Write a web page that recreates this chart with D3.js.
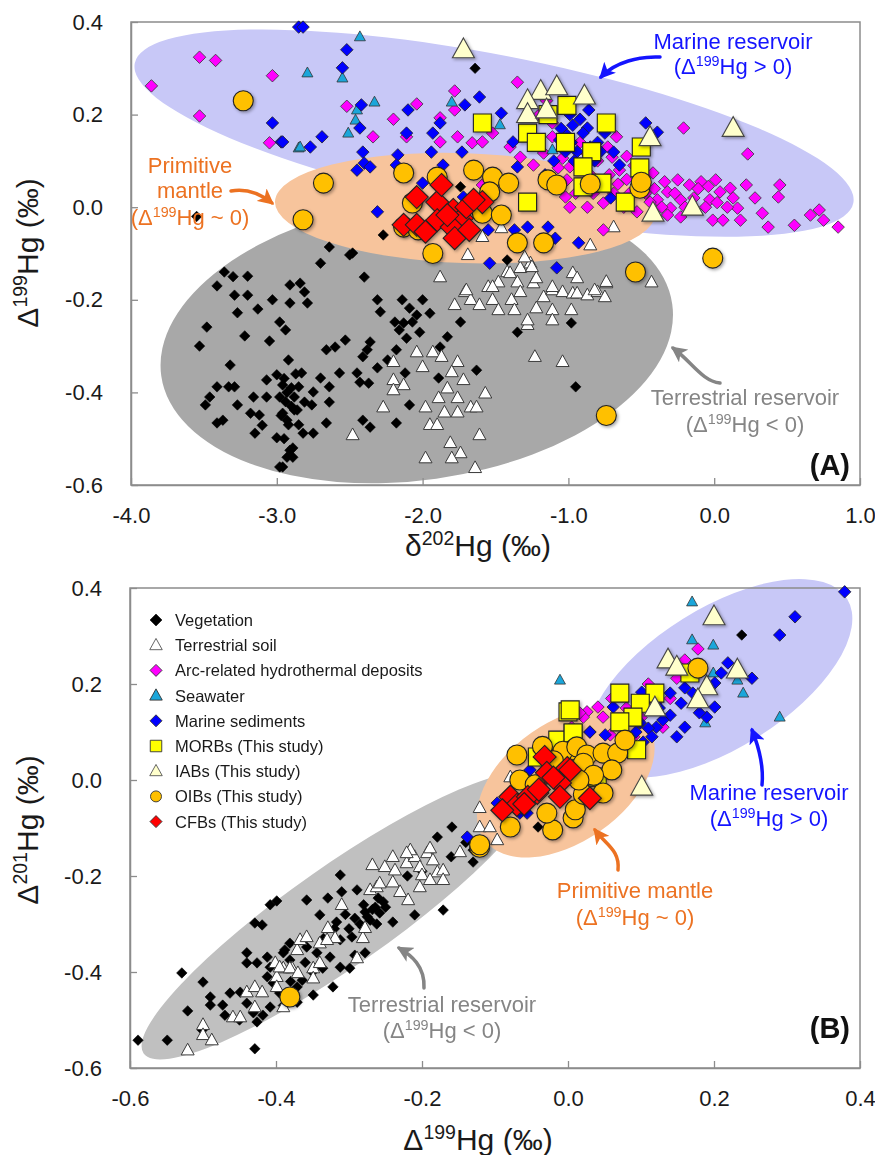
<!DOCTYPE html>
<html><head><meta charset="utf-8">
<script src="https://cdn.jsdelivr.net/npm/d3@7"></script>
<style>
body{margin:0;background:#fff}
svg{display:block}
text{font-family:"Liberation Sans",Arial,Helvetica,sans-serif}
</style>
</head><body>
<svg id="chart" width="875" height="1155"></svg>
<script>
// ---------------- DATA ----------------
// Panel A: x = δ202Hg, y = Δ199Hg
const vegA = [[-3.36,-0.14],[-3.30,-0.15],[-3.20,-0.149],[-3.41,-0.17],[-3.29,-0.19],[-3.20,-0.19],[-3.03,-0.20],[-2.91,-0.168],[-2.91,-0.207],[-3.27,-0.228],[-3.13,-0.22],[-2.98,-0.248],[-2.94,-0.265],[-3.48,-0.259],[-3.22,-0.278],[-3.05,-0.289],[-3.53,-0.30],[-3.32,-0.341],[-2.92,-0.33],[-3.41,-0.388],[-3.33,-0.388],[-3.29,-0.388],[-3.46,-0.41],[-3.49,-0.427],[-3.27,-0.427],[-3.16,-0.41],[-3.07,-0.373],[-3.00,-0.362],[-2.96,-0.384],[-2.98,-0.41],[-3.07,-0.41],[-3.18,-0.445],[-3.12,-0.449],[-2.96,-0.445],[-2.86,-0.438],[-3.41,-0.466],[-3.37,-0.46],[-3.10,-0.471],[-3.15,-0.488],[-3.00,-0.498],[-2.93,-0.46],[-2.89,-0.52],[-2.93,-0.54],[-2.98,-0.561],[-2.89,-0.54],
[-2.70,-0.121],[-2.50,-0.103],[-2.40,-0.151],[-2.84,-0.164],[-2.81,-0.183],[-2.79,-0.207],[-2.31,-0.20],[-2.14,-0.20],[-2.00,-0.20],[-2.29,-0.226],[-2.09,-0.218],[-2.04,-0.233],[-1.95,-0.229],[-2.19,-0.248],[-2.13,-0.25],[-2.07,-0.248],[-1.74,-0.248],[-2.16,-0.265],[-2.02,-0.27],[-2.11,-0.283],[-2.53,-0.287],[-2.36,-0.291],[-1.83,-0.28],[-2.60,-0.302],[-2.66,-0.308],[-2.38,-0.308],[-2.18,-0.308],[-1.88,-0.302],[-2.41,-0.323],[-2.24,-0.33],[-2.31,-0.347],[-2.57,-0.358],[-2.45,-0.358],[-2.12,-0.358],[-2.83,-0.358],[-2.70,-0.369],[-2.43,-0.378],[-2.37,-0.38],[-2.64,-0.388],[-1.89,-0.369],[-1.63,-0.352],[-2.85,-0.388],[-2.75,-0.399],[-2.81,-0.421],[-2.64,-0.421],[-2.88,-0.438],[-2.76,-0.427],[-2.09,-0.427],[-2.41,-0.46],[-2.36,-0.475],[-2.66,-0.466],[-2.18,-0.466],[-2.82,-0.488],[-2.75,-0.488],[-2.91,-0.525],[-2.96,-0.561],[-1.35,-0.27],[-0.95,-0.388],[-1.42,-0.114],[-0.98,-0.25],
[-2.27,-0.06],[-2.64,-0.086],[-2.48,-0.099],[-1.74,0.044],[-1.64,0.30],[-3.55,-0.02],
[-2.95,-0.37],[-2.93,-0.40],[-2.90,-0.39],[-2.94,-0.42],[-2.90,-0.43],[-2.97,-0.45],[-2.92,-0.47],[-2.88,-0.41],[-2.87,-0.36],[-2.85,-0.47],[-2.95,-0.50]];

const soilA = [[-1.88,-0.151],[-1.71,-0.183],[-1.78,-0.211],[-1.67,-0.200],[-1.61,-0.211],[-1.52,-0.200],[-1.55,-0.172],[-1.48,-0.162],[-1.42,-0.140],[-1.35,-0.162],[-1.33,-0.131],[-1.26,-0.121],[-1.24,-0.164],[-1.39,-0.200],[-1.33,-0.183],[-1.17,-0.194],[-1.11,-0.179],[-1.04,-0.183],[-0.97,-0.186],[-0.98,-0.222],[-1.11,-0.222],[-1.22,-0.218],[-1.37,-0.222],[-1.48,-0.222],[-1.28,-0.254],[-1.28,-0.244],[-1.11,-0.244],[-0.97,-0.142],[-1.23,-0.323],[-1.04,-0.334],[-2.04,-0.313],[-1.93,-0.313],[-1.87,-0.323],[-2.20,-0.334],[-2.00,-0.345],[-1.76,-0.334],[-1.80,-0.356],[-1.72,-0.373],[-2.20,-0.373],[-2.13,-0.384],[-2.20,-0.395],[-1.83,-0.391],[-1.89,-0.412],[-1.76,-0.412],[-1.57,-0.402],[-2.27,-0.432],[-1.98,-0.432],[-1.85,-0.443],[-1.76,-0.443],[-1.67,-0.432],[-1.63,-0.432],[-1.95,-0.470],[-1.90,-0.470],[-2.48,-0.492],[-1.61,-0.492],[-1.81,-0.509],[-1.74,-0.531],[-1.98,-0.542],[-1.80,-0.542],[-1.64,-0.563],[-0.94,-0.153],[-0.74,-0.164],[-0.43,-0.162],[-0.94,-0.186],[-0.87,-0.190],[-0.80,-0.183],[-0.75,-0.194],[-1.69,-0.103],[-1.59,-0.064],[-1.46,-0.045],[-1.30,-0.108],[-1.25,-0.129],[-1.40,-0.142],[-1.22,-0.153],[-1.11,-0.172],[-1.70,-0.179],[-0.69,-0.043],[-0.85,-0.082],[-0.74,-0.161],[-0.82,-0.179],[-1.52,-0.172]];

const arcA = [[-3.86,0.262],[-3.53,0.324],[-3.42,0.317],[-3.03,0.284],[-3.53,0.197],[-3.05,0.139],[-2.52,0.218],[-2.20,0.190],[-2.04,0.223],[-2.34,0.152],[-1.78,0.251],[-1.78,0.210],[-1.35,0.270],[-1.88,0.193],[-1.88,0.141],[-1.76,0.152],[-2.11,0.152],[-1.66,0.139],[-1.59,0.141],[-1.52,0.160],[-1.40,0.130],[-1.33,0.108],[-1.11,0.182],[-1.11,0.152],[-1.24,0.091],[-1.17,0.117],[-1.04,0.106],[-1.07,0.085],[-1.01,0.059],[-1.02,0.022],[-0.99,0.0],[-1.59,0.048],
[-0.21,0.171],[0.23,0.115],[-0.42,0.074],[-0.34,0.055],[-0.25,0.059],[-0.17,0.048],[-0.09,0.055],[0.01,0.059],[0.11,0.041],[0.22,0.048],[0.45,0.048],[0.44,0.022],[0.33,-0.013],[0.37,-0.043],[0.55,-0.039],[0.66,-0.017],[0.72,-0.006],[0.75,-0.028],[0.85,-0.043],[0.16,-0.002],[-0.01,-0.028],[0.06,-0.028],[0.18,-0.028],[-0.03,0.016],[0.04,0.033],[-0.32,0.033],[-0.39,0.016],[-0.23,0.016],[-0.30,-0.002],[-0.44,0.011],[-0.23,-0.021],[-0.32,-0.017],[-0.76,-0.049],[-0.87,0.0],[-0.76,0.009],[-0.67,0.152],[-0.73,0.130],[-0.70,0.108],[-0.65,0.080],[-0.99,0.087],[-0.95,0.03],[-0.60,0.06],[-0.55,0.09],[-0.58,0.03],[-0.62,0.00],[-0.80,0.10],[-0.85,0.07],[-0.92,0.14],[-0.47,0.03],[-0.36,0.00],[-0.14,0.02],[-0.06,0.00],[0.09,0.00],[0.28,0.02],[-1.2,0.20],[-1.15,0.23],[-0.69,0.03],[-0.53,-0.01],
[-0.90,0.05],[-0.83,0.03],[-0.66,0.05],[-0.72,0.07],[-0.50,0.06],[-0.41,0.04],[-0.27,0.03],[-0.20,0.00],[-0.11,0.04],[-0.04,0.045],[0.02,0.01],[0.13,0.02],[-0.87,0.115],[-0.60,0.11]];

const seaA = [[-2.85,0.128],[-2.43,0.368],[-2.79,0.290],[-2.55,0.279],[-2.33,0.227],[-2.45,0.210],[-2.46,0.188],[-2.51,0.160],[-2.84,0.130],[-1.80,0.227],[-1.47,0.178],[-1.11,0.124]];

const marA = [[-2.85,0.389],[-3.03,0.182],[-2.97,0.141],[-2.82,0.389],[-2.52,0.340],[-2.55,0.301],[-2.42,0.221],[-2.10,0.210],[-2.43,0.171],[-2.69,0.152],[-2.77,0.130],[-2.96,0.141],[-2.41,0.119],[-2.40,0.095],[-2.45,0.080],[-2.36,0.087],[-2.17,0.113],[-2.18,0.091],[-1.94,0.119],[-1.93,0.160],[-1.88,0.182],[-2.11,0.160],[-1.71,0.221],[-1.61,0.238],[-1.73,0.119],[-1.86,0.091],[-1.46,0.203],[-1.38,0.141],[-1.35,0.087],[-2.00,0.052],[-2.31,-0.010],[-1.55,-0.049],[-1.37,-0.049],[-1.28,-0.043],[-1.14,-0.043],[-1.09,-0.067],[-1.54,-0.121],[-1.08,-0.131],[-1.72,0.022],[-1.01,0.156],
[-0.47,0.182],[-0.39,0.162],[-0.97,0.177],[-0.87,0.171],[-0.69,0.119],[-0.65,0.091],[-0.71,0.020],[-0.93,-0.077],
[-1.05,0.17],[-0.98,0.14],[-0.94,0.12],[-0.90,0.16],[-0.85,0.13],[-0.82,0.10],[-1.02,0.12],[-0.96,0.10],[-0.88,0.09],[-0.80,0.14],[-0.75,0.16],[-1.10,0.10],[-1.06,0.145],[-0.92,0.19],[-0.78,0.12],[-1.16,0.07],[-0.99,0.20],[-0.86,0.21]];

const morbA = [[-1.59,0.182],[-1.28,0.160],[-1.22,0.140],[-1.01,0.220],[-1.28,0.011],[-0.74,0.182],[-0.84,0.120],[-0.50,0.130],[-0.51,0.085],[-0.90,0.087],[-0.90,0.044],[-0.77,0.052],[-0.61,0.011],[-1.14,0.20],[-1.02,0.14]];

const iabA = [[-1.72,0.34],[-1.19,0.25],[-1.28,0.23],[-1.28,0.20],[-0.89,0.24],[0.13,0.17],[-0.44,0.15],[-0.42,-0.013],[-0.15,0.0],[-1.08,0.26],[-1.15,0.21]];

const oibA = [[-3.23,0.23],[-2.82,-0.027],[-2.68,0.052],[-2.13,0.074],[-1.90,0.065],[-2.07,0.009],[-2.13,-0.043],[-2.03,-0.049],[-1.93,-0.10],[-1.65,0.08],[-1.52,0.065],[-1.41,0.052],[-1.54,0.033],[-1.59,-0.013],[-1.46,-0.017],[-1.35,-0.077],[-1.17,-0.077],[-1.14,0.059],[-1.08,0.048],[-0.51,0.041],[-0.50,0.054],[-0.01,-0.11],[-0.54,-0.14],[-0.74,-0.45],[-0.85,0.05]];

const cfbA = [[-2.04,0.022],[-1.90,0.011],[-1.87,0.048],[-2.13,-0.038],[-2.04,-0.038],[-1.90,-0.028],[-1.79,-0.006],[-1.73,-0.024],[-1.80,-0.043],[-1.70,0.0],[-1.59,0.011],[-1.78,-0.067],[-1.68,-0.049],[-1.83,-0.017],[-1.98,-0.053],[-1.65,0.016]];

// Panel B: x = Δ199Hg, y = Δ201Hg
const vegB = [[-0.589,-0.542],[-0.549,-0.542],[-0.529,-0.402],[-0.500,-0.421],[-0.521,-0.481],[-0.490,-0.452],[-0.490,-0.469],[-0.501,-0.521],[-0.429,-0.560],[-0.408,-0.260],[-0.399,-0.252],[-0.429,-0.298],[-0.419,-0.302],[-0.440,-0.360],[-0.440,-0.381],[-0.426,-0.381],[-0.412,-0.369],[-0.408,-0.390],[-0.390,-0.360],[-0.381,-0.340],[-0.463,-0.444],[-0.449,-0.442],[-0.473,-0.469],[-0.440,-0.465],[-0.431,-0.485],[-0.418,-0.490],[-0.426,-0.504],[-0.408,-0.473],[-0.395,-0.444],[-0.404,-0.423],[-0.371,-0.463],[-0.412,-0.410],
[-0.312,-0.198],[-0.310,-0.233],[-0.289,-0.229],[-0.358,-0.250],[-0.329,-0.246],[-0.340,-0.281],[-0.317,-0.296],[-0.292,-0.288],[-0.278,-0.275],[-0.264,-0.265],[-0.258,-0.277],[-0.271,-0.292],[-0.253,-0.254],[-0.260,-0.246],[-0.240,-0.296],[-0.210,-0.281],[-0.171,-0.271],[-0.130,-0.171],[-0.296,-0.327],[-0.281,-0.306],[-0.312,-0.333],[-0.292,-0.365],[-0.278,-0.360],[-0.344,-0.360],[-0.326,-0.369],[-0.358,-0.348],[-0.388,-0.354],[-0.381,-0.375],[-0.312,-0.390],[-0.336,-0.392],[-0.299,-0.392],[-0.322,-0.431],[-0.349,-0.448],[-0.364,-0.417],[-0.371,-0.431],
[-0.159,-0.098],[-0.179,-0.119],[-0.130,-0.146],[-0.041,-0.098],[0.238,0.302],
[-0.285,-0.30],[-0.275,-0.285],[-0.268,-0.27],[-0.262,-0.30],[-0.250,-0.265],[-0.28,-0.26],[-0.30,-0.31],[-0.305,-0.28],[-0.32,-0.31],[-0.335,-0.33],[-0.22,-0.20],[-0.20,-0.19],[-0.16,-0.16],[-0.14,-0.13],[-0.36,-0.38],[-0.35,-0.40],[-0.38,-0.42],[-0.39,-0.47],[-0.45,-0.50],[-0.47,-0.49]];

const soilB = [[-0.521,-0.563],[-0.500,-0.510],[-0.500,-0.531],[-0.488,-0.542],[-0.459,-0.494],[-0.449,-0.494],[-0.440,-0.442],[-0.429,-0.431],[-0.419,-0.442],[-0.429,-0.473],[-0.401,-0.381],[-0.390,-0.392],[-0.378,-0.392],[-0.399,-0.410],[-0.399,-0.431],[-0.390,-0.473],[-0.371,-0.354],
[-0.395,-0.390],[-0.381,-0.392],[-0.370,-0.402],[-0.349,-0.392],[-0.349,-0.413],[-0.340,-0.381],[-0.289,-0.371],[-0.340,-0.340],[-0.329,-0.308],[-0.319,-0.329],[-0.367,-0.333],[-0.358,-0.327],[-0.330,-0.333],[-0.281,-0.329],[-0.278,-0.308],[-0.310,-0.260],[-0.271,-0.229],[-0.262,-0.223],[-0.258,-0.215],[-0.240,-0.213],[-0.230,-0.233],[-0.219,-0.250],[-0.268,-0.177],[-0.251,-0.181],[-0.237,-0.188],[-0.221,-0.173],[-0.210,-0.160],[-0.203,-0.181],[-0.193,-0.152],[-0.185,-0.167],[-0.179,-0.192],[-0.171,-0.188],[-0.200,-0.198],[-0.189,-0.208],[-0.171,-0.208],[-0.216,-0.146],[-0.240,-0.160],[-0.203,-0.223],
[-0.121,-0.058],[-0.121,-0.098],[-0.107,-0.098],[-0.097,-0.125],[-0.148,-0.150],[-0.221,-0.152],[-0.189,-0.142],[-0.079,0.006]];

const arcB = [[0.178,0.273],[0.149,0.212],[0.041,0.152],[0.026,0.142],[0.048,0.131],[0.021,0.131],[0.058,0.094],[0.016,0.140],[0.06,0.17],[0.08,0.15],[0.10,0.13],[0.12,0.16],[0.03,0.10],[0.09,0.09],[0.11,0.20],[0.13,0.11],[0.07,0.12],[0.005,0.11],[0.14,0.17],[0.16,0.25]];

const seaB = [[-0.011,0.208],[0.170,0.371],[0.170,0.292],[0.199,0.281],[0.240,0.181],[0.290,0.131],[0.232,0.208],[0.199,0.223],[0.188,0.119]];

const marB = [[0.379,0.392],[0.311,0.340],[0.290,0.302],[0.252,0.212],[0.219,0.244],[0.210,0.223],[0.201,0.202],[0.160,0.192],[0.171,0.181],[0.140,0.181],[0.201,0.152],[0.190,0.131],[0.160,0.110],[0.149,0.090],[0.140,0.135],[0.130,0.125],[0.121,0.110],[0.110,0.108],[0.099,0.119],[0.103,0.079],[0.115,0.09],[0.093,0.10],[0.051,0.094],[0.030,0.100],[0.062,0.152],[0.101,0.183],[-0.138,-0.119],[-0.097,-0.048],[-0.066,-0.069],[-0.056,-0.069],[-0.052,0.021],[0.125,0.15],[0.155,0.16],[0.18,0.14],[0.085,0.07]];

const morbB = [[0.000,0.142],[-0.014,0.083],[0.007,0.098],[-0.042,0.048],[0.071,0.181],[0.119,0.181],[0.099,0.160],[0.089,0.131],[0.071,0.121],[0.003,0.146],[0.007,0.098],[0.094,0.063],[0.040,0.006],[0.167,0.223]];

const iabB = [[0.200,0.340],[0.137,0.250],[0.149,0.235],[0.232,0.229],[0.190,0.194],[0.178,0.167],[0.119,0.150],[0.101,-0.015]];

const oibB = [[-0.381,-0.452],[-0.121,-0.140],[-0.070,0.052],[-0.079,-0.098],[-0.121,-0.135],[-0.066,0.000],[-0.021,-0.104],[-0.029,-0.069],[0.007,-0.079],[0.007,0.063],[-0.007,0.06],[0.178,0.233],[0.012,0.069],[0.026,0.052],[0.048,0.056],[0.068,0.056],[0.078,0.083],[0.060,0.021],[0.021,0.035],[0.048,-0.027],[0.010,-0.062],[0.021,-0.03],[-0.045,-0.01],[-0.035,0.07],[0.035,0.01],[-0.02,0.04],[0.015,0.0]];

const cfbB = [[-0.032,0.048],[-0.029,0.015],[-0.001,0.025],[-0.011,-0.006],[-0.042,-0.027],[-0.079,-0.035],[-0.070,-0.052],[-0.090,-0.063],[-0.055,-0.035],[-0.040,-0.020],[-0.011,-0.035],[0.003,0.021],[0.030,-0.038],[-0.060,-0.05],[-0.020,0.005]];

// axes
const xTicksA = [-4, -3, -2, -1, 0, 1];
const yTicksA = [-0.6, -0.4, -0.2, 0, 0.2, 0.4];
const xTicksB = [-0.6, -0.4, -0.2, 0, 0.2, 0.4];
const yTicksB = [-0.6, -0.4, -0.2, 0, 0.2, 0.4];

const seriesNames = ["Vegetation","Terrestrial soil","Arc-related hydrothermal deposits","Seawater","Marine sediments","MORBs (This study)","IABs (This study)","OIBs (This study)","CFBs (This study)"];

// reservoir ellipse centres (data units)
const ellA = {gray:[-2.04,-0.287], blue:[-1.51,0.160], orange:[-1.71,-0.002]};
const ellB = {gray:[-0.312,-0.283], blue:[0.208,0.212], orange:[-0.003,-0.004]};

// ---------------- STYLES ----------------
const styles = [
  {shape:"diamond", s:10.5, fill:"#000000", stroke:"#000", sw:0.6},
  {shape:"triangle", s:13, fill:"#ffffff", stroke:"#3a3a3a", sw:1},
  {shape:"diamond", s:12.5, fill:"#ff00ff", stroke:"#333", sw:0.8},
  {shape:"triangle", s:11, fill:"#1ba6da", stroke:"#333", sw:0.8},
  {shape:"diamond", s:12.5, fill:"#0000ff", stroke:"#222", sw:0.8},
  {shape:"square", s:18, fill:"#ffff00", stroke:"#222", sw:1.1},
  {shape:"triangle", s:22, fill:"#ffffcc", stroke:"#444", sw:1.1},
  {shape:"circle", s:20, fill:"#ffc000", stroke:"#222", sw:1.1},
  {shape:"diamond", s:23, fill:"#ff0000", stroke:"#222", sw:1.1}
];
const shadowed = [false,false,false,false,false,true,true,true,true];

function shapePath(shape, s){
  const h = s/2;
  if (shape === "diamond") return `M0,${-h}L${h},0L0,${h}L${-h},0Z`;
  if (shape === "square") return `M${-h},${-h}H${h}V${h}H${-h}Z`;
  if (shape === "triangle") { const th = s*0.9; return `M0,${-th*0.6}L${h},${th*0.4}L${-h},${th*0.4}Z`; }
  if (shape === "circle") return `M${h},0A${h},${h},0,1,1,${-h},0A${h},${h},0,1,1,${h},0Z`;
}

const svg = d3.select("#chart");
const defs = svg.append("defs");
defs.append("filter").attr("id","shadow").attr("x","-50%").attr("y","-50%").attr("width","200%").attr("height","200%")
  .append("feDropShadow").attr("dx",1.5).attr("dy",1.5).attr("stdDeviation",1.8)
  .attr("flood-color","#000").attr("flood-opacity",0.35);

function arrowMarker(id, color){
  defs.append("marker").attr("id",id).attr("viewBox","0 0 12 12").attr("refX",10).attr("refY",6)
    .attr("markerWidth",16).attr("markerHeight",16).attr("markerUnits","userSpaceOnUse").attr("orient","auto")
    .append("path").attr("d","M0,0L12,6L0,12L3,6Z").attr("fill",color);
}
const BLUE = "#1414ff", ORANGE = "#ec7222", GRAY = "#858585";
arrowMarker("arBlue", BLUE); arrowMarker("arOrange", ORANGE); arrowMarker("arGray", GRAY);

// rich text with superscripts
function richText(g, parts, fs){
  parts.forEach(p => {
    if (p.sup) {
      g.append("tspan").attr("font-size", fs*0.65).attr("dy", -fs*0.38).text(p.t);
    } else {
      const t = g.append("tspan").attr("font-size", fs).text(p.t);
      if (p.after) t.attr("dy", fs*0.38);
    }
  });
}

function panel(opts){
  const {x, y, xTicks, yTicks, data, ell, ellStyle} = opts;
  const g = svg.append("g");
  const [x0,x1] = x.range(), [y0,y1] = y.range();

  // ellipses
  const E = g.append("g");
  ["gray","blue","orange"].forEach(k=>{
    const st = ellStyle[k];
    E.append("ellipse").attr("cx",0).attr("cy",0).attr("rx",st.rx).attr("ry",st.ry)
      .attr("transform",`translate(${x(ell[k][0])},${y(ell[k][1])}) rotate(${st.rot})`)
      .attr("fill",st.fill);
  });

  // frame
  g.append("rect").attr("x",x0).attr("y",y1).attr("width",x1-x0).attr("height",y0-y1)
    .attr("fill","none").attr("stroke","#8c8c8c").attr("stroke-width",1.5);

  // axes
  const ax = g.append("g").attr("transform",`translate(0,${y0})`)
    .call(d3.axisBottom(x).tickValues(xTicks).tickFormat(d=>d.toFixed(1)).tickSizeInner(-7).tickSizeOuter(0).tickPadding(22));
  const ay = g.append("g").attr("transform",`translate(${x0},0)`)
    .call(d3.axisLeft(y).tickValues(yTicks).tickFormat(d=>d.toFixed(1)).tickSizeInner(-7).tickSizeOuter(0).tickPadding(28));
  [ax,ay].forEach(a=>{
    a.select(".domain").attr("stroke","#8c8c8c").attr("stroke-width",1.5);
    a.selectAll(".tick line").attr("stroke","#8c8c8c").attr("stroke-width",1.3);
    a.selectAll(".tick text").attr("font-size",22).attr("fill","#1a1a1a").attr("font-family","Liberation Sans, Arial, sans-serif");
  });

  // points
  data.forEach((arr,i)=>{
    const st = styles[i];
    const sg = g.append("g");
    if (shadowed[i]) sg.attr("filter","url(#shadow)");
    sg.selectAll("path").data(arr).join("path")
      .attr("d", shapePath(st.shape, st.s))
      .attr("transform", d=>`translate(${x(d[0])},${y(d[1])})`)
      .attr("fill", st.fill).attr("stroke", st.stroke).attr("stroke-width", st.sw)
      .attr("stroke-linejoin","miter");
  });
  return g;
}

// ---------------- PANEL A ----------------
const xA = d3.scaleLinear().domain([-4,1]).range([131,860]);
const yA = d3.scaleLinear().domain([-0.6,0.4]).range([485,22]);
panel({x:xA, y:yA, xTicks:xTicksA, yTicks:yTicksA,
  data:[vegA,soilA,arcA,seaA,marA,morbA,iabA,oibA,cfbA], ell:ellA,
  ellStyle:{gray:{rx:258,ry:140,rot:-8,fill:"#a8a8a8"}, blue:{rx:366,ry:78,rot:11,fill:"#c8c8f7"}, orange:{rx:190,ry:55,rot:2,fill:"#f7c49c"}}});

// ---------------- PANEL B ----------------
const xB = d3.scaleLinear().domain([-0.6,0.4]).range([130,860]);
const yB = d3.scaleLinear().domain([-0.6,0.4]).range([1068,588]);
panel({x:xB, y:yB, xTicks:xTicksB, yTicks:yTicksB,
  data:[vegB,soilB,arcB,seaB,marB,morbB,iabB,oibB,cfbB], ell:ellB,
  ellStyle:{gray:{rx:240,ry:50,rot:-35,fill:"#c0c0c0"}, blue:{rx:150,ry:70,rot:-32,fill:"#c8c8f7"}, orange:{rx:100,ry:60,rot:-35,fill:"#f7c49c"}}});

// ---------------- AXIS TITLES ----------------
function title(xp, yp, parts, rot){
  const t = svg.append("text").attr("text-anchor","middle").attr("fill","#1a1a1a");
  if (rot) t.attr("transform",`translate(${xp},${yp}) rotate(-90)`); else t.attr("x",xp).attr("y",yp);
  richText(t, parts, 30);
}
title(478, 556, [{t:"δ"},{t:"202",sup:true},{t:"Hg (‰)",after:true}]);
title(38, 253, [{t:"Δ"},{t:"199",sup:true},{t:"Hg (‰)",after:true}], true);
title(478, 1150, [{t:"Δ"},{t:"199",sup:true},{t:"Hg (‰)",after:true}]);
title(38, 830, [{t:"Δ"},{t:"201",sup:true},{t:"Hg (‰)",after:true}], true);

// ---------------- ANNOTATIONS ----------------
function note(xp, yp, lines, color){
  lines.forEach((ln,i)=>{
    const t = svg.append("text").attr("x",xp).attr("y",yp[i]).attr("text-anchor","middle").attr("fill",color);
    if (typeof ln === "string") t.attr("font-size",22).text(ln);
    else richText(t, ln, 22);
  });
}
function arrow(d, color, id){
  svg.append("path").attr("d",d).attr("fill","none").attr("stroke",color).attr("stroke-width",3.5)
    .attr("stroke-linecap","round").attr("marker-end",`url(#${id})`);
}
const lineGT = [{t:"(Δ"},{t:"199",sup:true},{t:"Hg > 0)",after:true}];
const lineLT = [{t:"(Δ"},{t:"199",sup:true},{t:"Hg < 0)",after:true}];
const lineSIM = [{t:"(Δ"},{t:"199",sup:true},{t:"Hg ~ 0)",after:true}];

// Panel A
note(733,[49,74],["Marine reservoir", lineGT], BLUE);
arrow("M660,57 C640,56 615,62 601,77", BLUE, "arBlue");
note(190,[173,198,225],["Primitive","mantle", lineSIM], ORANGE);
arrow("M231,191 C248,188 262,195 272,203", ORANGE, "arOrange");
note(745,[405,432],["Terrestrial reservoir", lineLT], GRAY);
arrow("M720,383 C702,381 692,362 673,348", GRAY, "arGray");
svg.append("text").attr("x",850).attr("y",475).attr("text-anchor","end").attr("font-size",29).attr("font-weight","bold").attr("fill","#111").text("(A)");

// Panel B
note(769,[800,826],["Marine reservoir", lineGT], BLUE);
arrow("M762,785 C764,765 758,745 752,730", BLUE, "arBlue");
note(635,[898,925],["Primitive mantle", lineSIM], ORANGE);
arrow("M618,870 C620,850 606,845 595,830", ORANGE, "arOrange");
note(442,[1012,1038],["Terrestrial reservoir", lineLT], GRAY);
arrow("M424,988 C425,966 411,955 399,948", GRAY, "arGray");
svg.append("text").attr("x",850).attr("y",1038).attr("text-anchor","end").attr("font-size",29).attr("font-weight","bold").attr("fill","#111").text("(B)");

// ---------------- LEGEND ----------------
const legend = svg.append("g");
seriesNames.forEach((name,i)=>{
  const yy = 620 + i*25.2;
  const st = styles[i];
  const sz = st.shape==="diamond" ? 12 : st.shape==="square" ? 11.5 : st.shape==="circle" ? 11 : 12.5;
  legend.append("path").attr("d",shapePath(st.shape, sz)).attr("transform",`translate(156,${yy})`)
    .attr("fill",st.fill).attr("stroke", i===1||i===6 ? "#555" : "#333").attr("stroke-width",0.9);
  legend.append("text").attr("x",175).attr("y",yy+6).attr("font-size",16.5).attr("fill","#1a1a1a").text(name);
});
</script>
</body></html>
